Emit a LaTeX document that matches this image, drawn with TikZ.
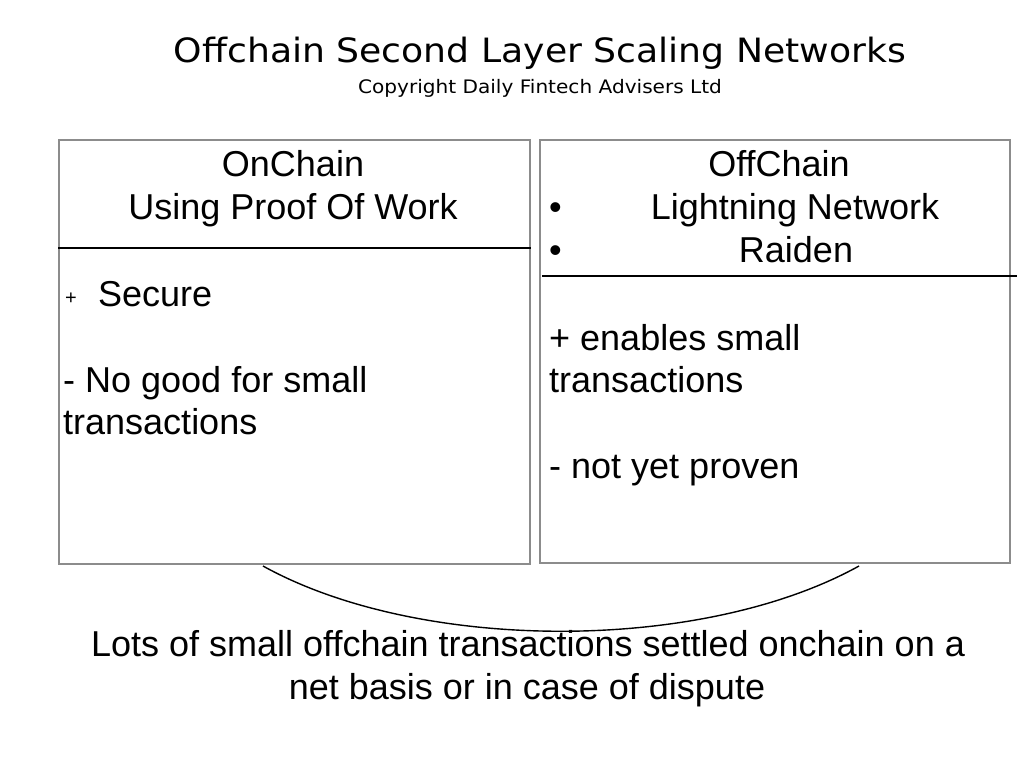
\documentclass[tikz,border=0pt]{standalone}
\usepackage{fontspec}
\setmainfont{Liberation Sans}
\newfontfamily\titlefont[FakeStretch=1.08]{DejaVu Sans}
\usepackage{xcolor}
\definecolor{boxgray}{HTML}{8C8C8C}
\usetikzlibrary{positioning,calc}

\begin{document}
\begin{tikzpicture}[x=1pt,y=-1pt,
        box/.style={draw=boxgray, line width=1.5pt, inner sep=0pt},
        divider/.style={line width=1.5pt},
        txt/.style={font=\fontsize{36}{43}\selectfont, inner sep=0pt}]
    \useasboundingbox (0,0) rectangle (1024,768);
    % title
    \node[font=\titlefont\fontsize{33.5}{36}\selectfont, inner sep=0pt, anchor=base] (title) at (540,63) {Offchain Second Layer Scaling Networks};
    \node[font=\titlefont\fontsize{18.6}{20}\selectfont, inner sep=0pt, anchor=base] (copyright) at (540,93) {Copyright Daily Fintech Advisers Ltd};
    % the two boxes
    \node[box, minimum width=471pt, minimum height=424pt, anchor=north west] (onchain) at (58,139) {};
    \node[box, minimum width=470pt, minimum height=423pt, anchor=north west] (offchain) at (539,139) {};
    \draw[divider] ($(onchain.north west)+(0,109)$) -- ($(onchain.north east)+(0,109)$);
    \draw[divider] ($(offchain.north west)+(3,137)$) -- ($(offchain.north east)+(6,137)$);
    % onchain text
    \node[txt, anchor=base] (onhead) at (293,176) {OnChain};
    \node[txt, anchor=base] (onpow) at (293,219) {Using Proof Of Work};
    \node[font=\fontsize{20}{24}\selectfont, inner sep=0pt, anchor=base west] (onplus) at (65,304) {+};
    \node[txt, anchor=base west] (onsecure) at (98,306) {Secure};
    \node[txt, anchor=base west] (onminus) at (63,392) {- No good for small};
    \node[txt, anchor=base west] (ontrans) at (63,434) {transactions};
    % offchain text
    \node[txt, anchor=base] (offhead) at (779,176) {OffChain};
    \node[txt, anchor=base west] (bulletA) at (549,219) {\textbullet};
    \node[txt, anchor=base] (lightning) at (795,219) {Lightning Network};
    \node[txt, anchor=base west] (bulletB) at (549,262) {\textbullet};
    \node[txt, anchor=base] (raiden) at (796,262) {Raiden};
    \node[txt, anchor=base west] (offplus) at (549,350) {+ enables small};
    \node[txt, anchor=base west] (offtrans) at (549,392) {transactions};
    \node[txt, anchor=base west] (offminus) at (549,478) {- not yet proven};
    % settlement arc
    \coordinate (arcL) at (263,566);
    \coordinate (arcR) at (859,566);
    \draw[line width=1.4pt] (arcL) .. controls (420,653) and (702,653) .. (arcR);
    \node[txt, anchor=base] (settleA) at (528,656) {Lots of small offchain transactions settled onchain on a};
    \node[txt, anchor=base] (settleB) at (527,699) {net basis or in case of dispute};
\end{tikzpicture}
\end{document}
